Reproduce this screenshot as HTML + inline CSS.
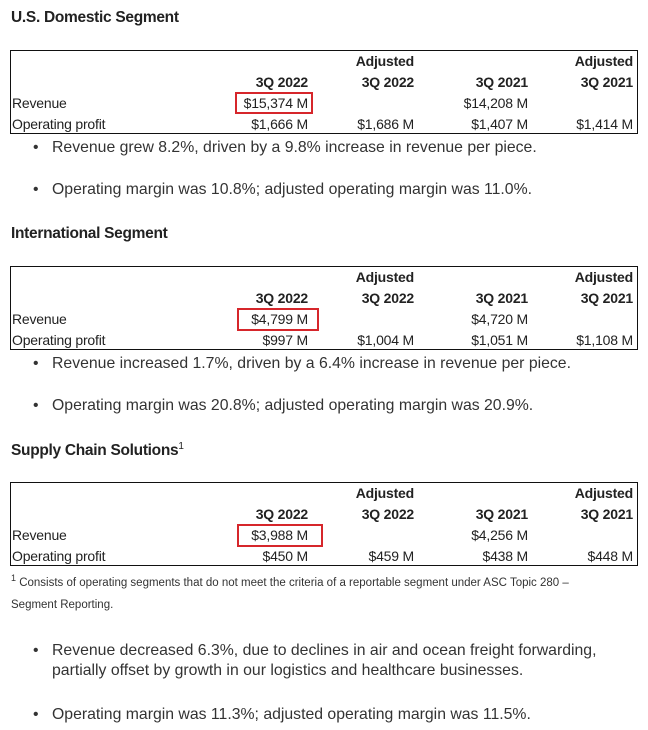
<!DOCTYPE html>
<html><head><meta charset="utf-8"><style>
body{margin:0;width:648px;height:730px;background:#fff;font-family:"Liberation Sans",sans-serif;color:#222;position:relative;overflow:hidden}
.a{position:absolute;white-space:nowrap;line-height:1}
h{position:absolute;font-weight:bold;font-size:15.5px;color:#222;white-space:nowrap;letter-spacing:-0.3px}
.box{position:absolute;left:10px;width:626px;height:82px;border:1.5px solid #111}
.t{position:absolute;font-size:14px;line-height:1;white-space:nowrap;color:#222;letter-spacing:-0.2px}
.r{text-align:right}
.b{font-weight:bold}
.red{position:absolute;border:2px solid #d6262b}
.bl{position:absolute;left:37px;font-size:15.8px;color:#333;white-space:nowrap;letter-spacing:0px}
.bl:before{content:"•";position:absolute;left:-4px}
.bl span{position:absolute;left:15px}
</style></head><body>

<h style="left:11px;top:9px">U.S. Domestic Segment</h>
<div class="box" style="top:50px"></div>
<div class="red" style="left:235px;top:92px;width:74px;height:18px"></div>
<div id="t1"></div>

<div class="bl" style="top:139px"><span>Revenue grew 8.2%, driven by a 9.8% increase in revenue per piece.</span></div>
<div class="bl" style="top:181px"><span>Operating margin was 10.8%; adjusted operating margin was 11.0%.</span></div>

<h style="left:11px;top:225px">International Segment</h>
<div class="box" style="top:266px"></div>
<div class="red" style="left:237px;top:308px;width:78px;height:19px"></div>

<div class="bl" style="top:355px"><span>Revenue increased 1.7%, driven by a 6.4% increase in revenue per piece.</span></div>
<div class="bl" style="top:397px"><span>Operating margin was 20.8%; adjusted operating margin was 20.9%.</span></div>

<h style="left:11px;top:441px">Supply Chain Solutions<sup style="font-weight:normal;font-size:10px">1</sup></h>
<div class="box" style="top:482px"></div>
<div class="red" style="left:237px;top:524px;width:82px;height:19px"></div>

<div class="a" style="left:11px;top:574px;font-size:11.5px;color:#333"><sup style="font-size:9px">1</sup> Consists of operating segments that do not meet the criteria of a reportable segment under ASC Topic 280 –</div>
<div class="a" style="left:11px;top:600px;font-size:11.5px;color:#333">Segment Reporting.</div>

<div class="bl" style="top:642px"><span>Revenue decreased 6.3%, due to declines in air and ocean freight forwarding,</span></div>
<div class="a" style="left:52px;top:663px;font-size:15.8px;color:#333">partially offset by growth in our logistics and healthcare businesses.</div>
<div class="bl" style="top:706px"><span>Operating margin was 11.3%; adjusted operating margin was 11.5%.</span></div>

<script>
var data=[
 [50,["$15,374 M","","$14,208 M",""],["$1,666 M","$1,686 M","$1,407 M","$1,414 M"]],
 [266,["$4,799 M","","$4,720 M",""],["$997 M","$1,004 M","$1,051 M","$1,108 M"]],
 [482,["$3,988 M","","$4,256 M",""],["$450 M","$459 M","$438 M","$448 M"]]
];
var rights=[308,414,528,633];
var h="";
data.forEach(function(d){
 var y=d[0];
 h+='<div class="t b r" style="right:'+(648-rights[1])+'px;top:'+(y+4)+'px">Adjusted</div>';
 h+='<div class="t b r" style="right:'+(648-rights[3])+'px;top:'+(y+4)+'px">Adjusted</div>';
 var hd=["3Q 2022","3Q 2022","3Q 2021","3Q 2021"];
 for(var i=0;i<4;i++){
  h+='<div class="t b r" style="right:'+(648-rights[i])+'px;top:'+(y+25)+'px">'+hd[i]+'</div>';
  h+='<div class="t r" style="right:'+(648-rights[i])+'px;top:'+(y+46)+'px">'+d[1][i]+'</div>';
  h+='<div class="t r" style="right:'+(648-rights[i])+'px;top:'+(y+67)+'px">'+d[2][i]+'</div>';
 }
 h+='<div class="t" style="left:12px;top:'+(y+46)+'px">Revenue</div>';
 h+='<div class="t" style="left:12px;top:'+(y+67)+'px">Operating profit</div>';
});
document.getElementById("t1").outerHTML=h;
</script>
</body></html>
